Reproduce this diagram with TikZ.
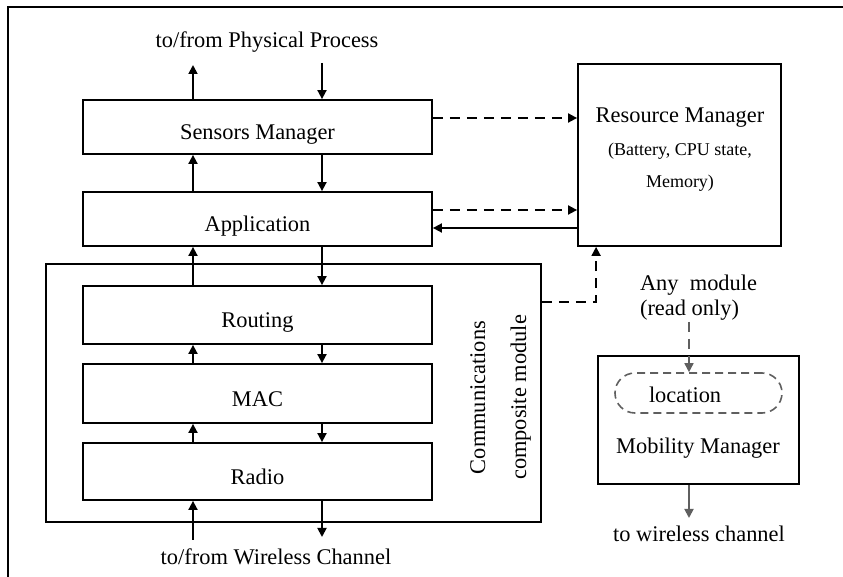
\documentclass[tikz,border=0pt]{standalone}
\usepackage{fontspec}
\setmainfont{Liberation Serif}
\usetikzlibrary{arrows.meta}

\begin{document}
\begin{tikzpicture}[x=0.5pt,y=-0.5pt,
  every node/.style={font=\fontsize{11.2}{13.5}\selectfont},
  box/.style={draw,line width=0.9pt,inner sep=0pt},
  layer/.style={box,minimum width=174.5pt,text height=13pt,text depth=0pt},
  arr/.style={line width=0.9pt,-{Triangle[length=4.5pt,width=4.5pt]}},
  darr/.style={arr,dash pattern=on 5pt off 3.5pt}]
\definecolor{gray1}{RGB}{95,95,95}
\useasboundingbox (0,0) rectangle (843,577);
\draw[line width=0.9pt] (843,7) -- (8,7) -- (8,577);

\node[box,minimum width=247.5pt,minimum height=129pt] (comm) at (293.5,393) {};
\node[layer,minimum height=27pt] (sens) at (257.5,127) {Sensors Manager};
\node[layer,minimum height=27pt] (app) at (257.5,219) {Application};
\node[layer,minimum height=29pt] (routing) at (257.5,315) {Routing};
\node[layer,minimum height=29.5pt] (mac) at (257.5,393.5) {MAC};
\node[layer,minimum height=28.5pt] (radio) at (257.5,471.5) {Radio};
\node[rotate=90,align=center,font=\fontsize{11.2}{20.5}\selectfont] (commlbl) at (500.5,397.5) {Communications\\composite module};
\node (phys) at (267,42) {to/from Physical Process};
\node (wch) at (276,557) {to/from Wireless Channel};

\node[box,minimum width=101.5pt,minimum height=91pt] (res) at (679.5,155) {};
\node (restitle) at (680,118) {Resource Manager};
\node[align=center,font=\fontsize{9}{16}\selectfont] (resinfo) at (680,167) {(Battery, CPU state,\\Memory)};
\node[anchor=west,align=left,font=\fontsize{11.2}{12.5}\selectfont] (anymod) at (633,297.5) {Any~ module\\(read only)};

\node[box,minimum width=100.5pt,minimum height=64pt] (mob) at (698.5,420) {};
\node[draw=gray1,line width=0.8pt,dash pattern=on 4pt off 2.5pt,rounded corners=10pt,minimum width=83.5pt,minimum height=20pt,text width=49.5pt,text height=10pt,text depth=0pt,inner xsep=17pt,inner ysep=0pt,align=left] (loc) at (698.5,393) {location};
\node (mobtxt) at (698,448) {Mobility Manager};
\node (tow) at (699,534) {to wireless channel};

\coordinate (up) at (193,0);
\coordinate (dn) at (322,0);
\coordinate (physout) at (193,65);
\coordinate (physin) at (322,63);
\coordinate (wchin) at (193,540);
\coordinate (wchout) at (322,537);
\coordinate (anyend) at (689,322);
\coordinate (towend) at (689,518);

\draw[arr] (sens.north -| up) -- (physout);
\draw[arr] (physin) -- (sens.north -| dn);
\draw[arr] (app.north -| up) -- (sens.south -| up);
\draw[arr] (sens.south -| dn) -- (app.north -| dn);
\draw[arr] (routing.north -| up) -- (app.south -| up);
\draw[arr] (app.south -| dn) -- (routing.north -| dn);
\draw[arr] (mac.north -| up) -- (routing.south -| up);
\draw[arr] (routing.south -| dn) -- (mac.north -| dn);
\draw[arr] (radio.north -| up) -- (mac.south -| up);
\draw[arr] (mac.south -| dn) -- (radio.north -| dn);
\draw[arr] (wchin) -- (radio.south -| up);
\draw[arr] (radio.south -| dn) -- (wchout);

\draw[darr] ([yshift=4.5pt]sens.east) -- ([yshift=4.5pt]sens.east -| res.west);
\draw[darr] ([yshift=4.5pt]app.east) -- ([yshift=4.5pt]app.east -| res.west);
\draw[arr] ([yshift=-4.5pt]app.east -| res.west) -- ([yshift=-4.5pt]app.east);
\draw[darr] ([yshift=45.5pt]comm.east) -| ([xshift=9.5pt]res.south west);

\draw[darr,gray1,line width=0.8pt] (anyend) -- (loc.north -| anyend);
\draw[arr,gray1] (mob.south -| towend) -- (towend);
\end{tikzpicture}
\end{document}
